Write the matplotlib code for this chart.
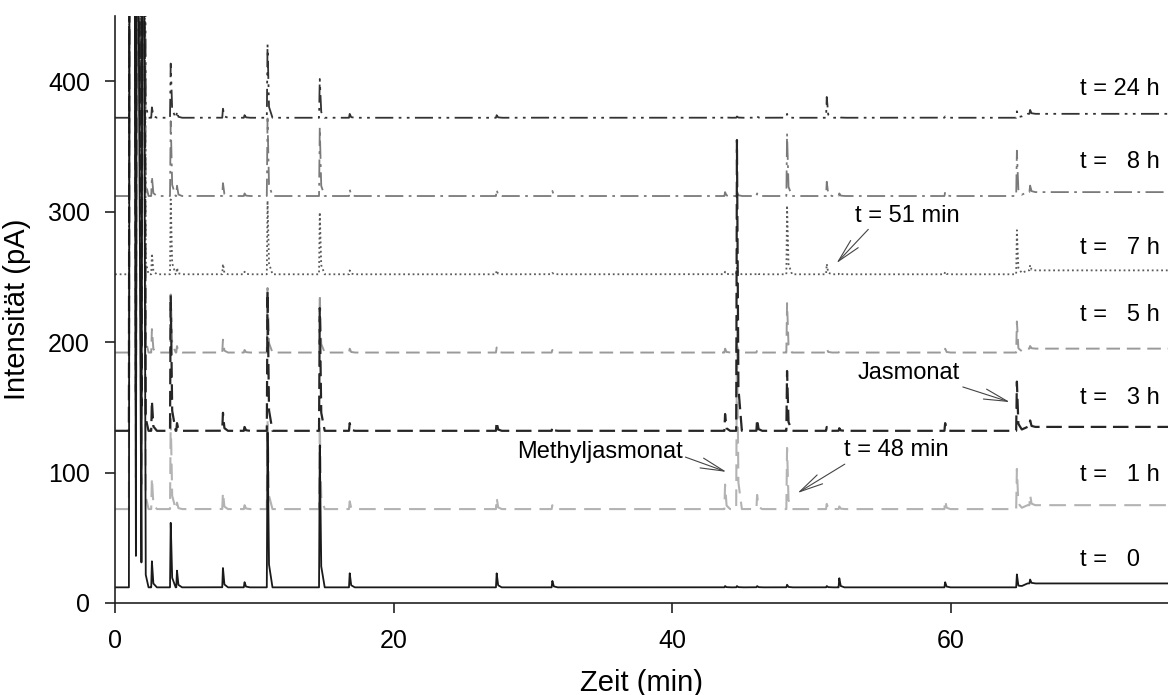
import numpy as np
import matplotlib
matplotlib.use("Agg")
import matplotlib.pyplot as plt

plt.rcParams['font.family'] = ['Liberation Sans', 'DejaVu Sans']

# Retention times of the peaks (min)
peak_rt = [2.65, 4.0, 4.45, 7.75, 9.3, 10.95, 14.7, 16.85, 27.4, 31.4,
           43.8, 44.65, 46.1, 48.25, 51.1, 52.0, 59.6, 64.75, 65.7]

# Series labels and baselines (pA) at start / end of the run
labels = ['t =   0', 't =   1 h', 't =   3 h', 't =   5 h', 't =   7 h', 't =   8 h', 't = 24 h']
base_start = [12, 72, 132, 192, 252, 312, 372]
base_end = [15, 75, 135, 195, 255, 315, 375]

# Peak heights above baseline (pA), one list per sample
h_0 = [20, 50, 13, 15, 4, 120, 110, 11, 11, 5, 1, 1, 1, 2, 1, 7, 4, 10, 3]
h_1 = [24, 70, 5, 13, 3, 70, 65, 6, 9, 3, 19, 140, 11, 47, 4, 2, 7, 31, 8]
h_3 = [23, 105, 6, 14, 3, 108, 95, 6, 7, 3, 13, 226, 9, 46, 3, 2, 6, 38, 5]
h_5 = [18, 45, 5, 10, 2, 50, 45, 3, 4, 2, 3, 6, 2, 38, 3, 1, 3, 24, 2]
h_7 = [16, 58, 5, 8, 2, 57, 48, 3, 3, 1, 2, 5, 1, 53, 8, 1, 2, 34, 4]
h_8 = [15, 58, 8, 10, 2, 60, 53, 5, 5, 4, 3, 4, 2, 48, 11, 2, 3, 35, 5]
h_24 = [8, 42, 5, 7, 2, 57, 30, 3, 2, 1, 1, 1, 1, 3, 16, 1, 1, 5, 3]
heights = [h_0, h_1, h_3, h_5, h_7, h_8, h_24]

# Solvent front (off scale), times (min) and level above baseline (pA)
sol_t = [1.00, 1.05, 1.40, 1.50, 1.57, 1.63, 1.90, 1.97, 2.05, 2.20, 2.40]
sol_y = [0, 600, 600, 18, 600, 600, 14, 600, 600, 10, 0]

# styles
colors = ['#1a1a1a', '#b3b3b3', '#262626', '#9a9a9a', '#5a5a5a', '#7a7a7a', '#333333']
dashes = [None, (8, 4), (7, 3), (7, 3.5), (1, 1.6), (10, 3, 1.5, 3), (10, 3, 1.5, 3, 1.5, 3)]
widths = [1.3, 1.5, 1.6, 1.4, 1.3, 1.3, 1.3]
order = [1, 3, 5, 4, 6, 2, 0]
label_y = [33, 98, 157, 221, 272, 338, 394]

fig = plt.figure(figsize=(11.68, 6.95), dpi=100)
ax = fig.add_axes([115 / 1168, 92 / 695, 1053 / 1168, 587 / 695])

x = np.linspace(0, 75.6, 20000)
shape_dt = np.array([-0.05, 0.0, 0.1, 0.35])
shape_rel = np.array([0.0, 1.0, 0.15, 0.0])

for i in order:
    y = np.interp(x, [0, 64.9, 65.5, 75.6], [base_start[i], base_start[i], base_end[i], base_end[i]])
    y = y + np.interp(x, sol_t, sol_y, left=0, right=0)
    for rt, h in zip(peak_rt, heights[i]):
        y = y + np.interp(x, rt + shape_dt, h * shape_rel, left=0, right=0)
    line, = ax.plot(x, y, color=colors[i], lw=widths[i])
    if dashes[i] is not None:
        line.set_dashes(dashes[i])

for i in range(len(labels)):
    ax.text(69.3, label_y[i], labels[i], fontsize=17, ha='left', va='center')

arrow = dict(arrowstyle='->,head_length=1.0,head_width=0.22', color='#444444', lw=0.8,
             shrinkA=0, shrinkB=0)
ax.annotate('Methyljasmonat', xy=(43.9, 100.5), xytext=(34.8, 116), ha='center', va='center',
            fontsize=17, arrowprops=dict(arrow, relpos=(1.0, 0.3)))
ax.annotate('Jasmonat', xy=(64.25, 154), xytext=(57.0, 176), ha='center', va='center',
            fontsize=17, arrowprops=dict(arrow, relpos=(0.95, 0.0)))
ax.annotate('t = 48 min', xy=(49.0, 84.3), xytext=(56.1, 117), ha='center', va='center',
            fontsize=17, arrowprops=dict(arrow, relpos=(0.05, 0.0)))
ax.annotate('t = 51 min', xy=(51.8, 260.5), xytext=(56.9, 297), ha='center', va='center',
            fontsize=17, arrowprops=dict(arrow, relpos=(0.15, 0.0)))

ax.set_xlim(0, 75.6)
ax.set_ylim(0, 450)
ax.set_xticks([0, 20, 40, 60])
ax.set_yticks([0, 100, 200, 300, 400])
ax.spines['top'].set_visible(False)
ax.spines['right'].set_visible(False)
for s in ['left', 'bottom']:
    ax.spines[s].set_linewidth(1.2)
    ax.spines[s].set_color('#222222')
ax.tick_params(axis='both', direction='out', length=7, width=1.2, labelsize=18, color='#222222')
ax.tick_params(axis='x', pad=12)
ax.tick_params(axis='y', pad=11)
ax.set_xlabel('Zeit (min)', fontsize=21, labelpad=11)
ax.set_ylabel('Intensität (pA)', fontsize=21, labelpad=12)

fig.savefig('out.png', dpi=100)
